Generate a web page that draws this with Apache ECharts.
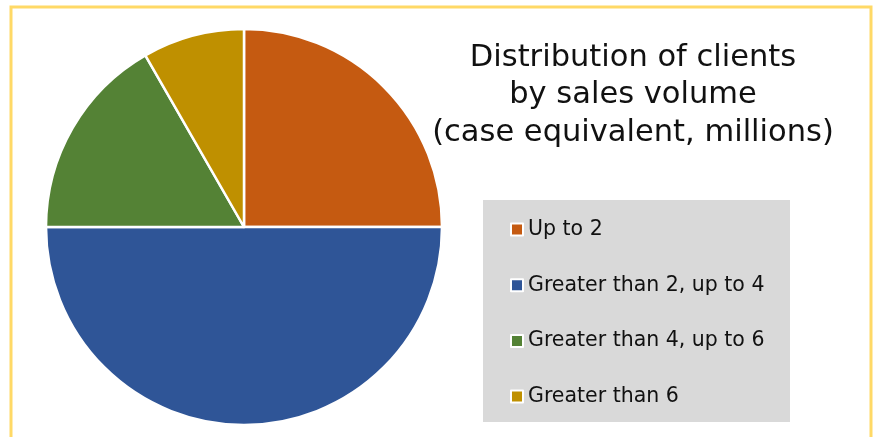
<!DOCTYPE html>
<html>
<head>
<meta charset="utf-8">
<script src="https://cdn.jsdelivr.net/npm/echarts@6/dist/echarts.min.js"></script>
<style>
  html, body { margin: 0; padding: 0; background: #fff; }
  #chart { width: 877px; height: 437px; }
</style>
</head>
<body>
<div id="chart"></div>
<script>
// categorías y valores (proporciones)
const categorias = ['Up to 2', 'Greater than 2, up to 4', 'Greater than 4, up to 6', 'Greater than 6'];
const valores = [25, 50, 16.7, 8.3];
const colores = ['#C55A11', '#2F5597', '#548235', '#BF9000'];

const chart = echarts.init(document.getElementById('chart'));

const fuente = 'DejaVu Sans';

chart.setOption({
    animation: false,
    color: colores,
    title: {
        text: 'Distribution of clients\nby sales volume\n(case equivalent, millions)',
        left: 628,
        top: 34,
        textAlign: 'center',
        textStyle: {
            fontFamily: fuente,
            fontSize: 30.5,
            fontWeight: 'normal',
            color: '#111',
            lineHeight: 37.5
        }
    },
    graphic: [
        {
            type: 'rect',
            shape: { x: 11, y: 7, width: 860, height: 440 },
            style: { fill: 'none', stroke: '#FFD966', lineWidth: 3 },
            z: 0
        },
        {
            type: 'rect',
            shape: { x: 483, y: 200, width: 307, height: 222 },
            style: { fill: '#D9D9D9' },
            z: 0
        }
    ],
    legend: {
        orient: 'vertical',
        left: 505,
        top: 214,
        itemWidth: 12,
        itemHeight: 12,
        itemGap: 34.7,
        icon: 'rect',
        data: categorias,
        textStyle: {
            fontFamily: fuente,
            fontSize: 20.5,
            color: '#111'
        },
        z: 5
    },
    series: [{
        type: 'pie',
        center: [244, 227],
        radius: 198,
        startAngle: 90,
        clockwise: true,
        label: { show: false },
        labelLine: { show: false },
        emphasis: { disabled: true },
        itemStyle: { borderColor: '#fff', borderWidth: 2.5 },
        data: categorias.map((c, i) => ({ name: c, value: valores[i] }))
    }]
});
</script>
</body>
</html>
